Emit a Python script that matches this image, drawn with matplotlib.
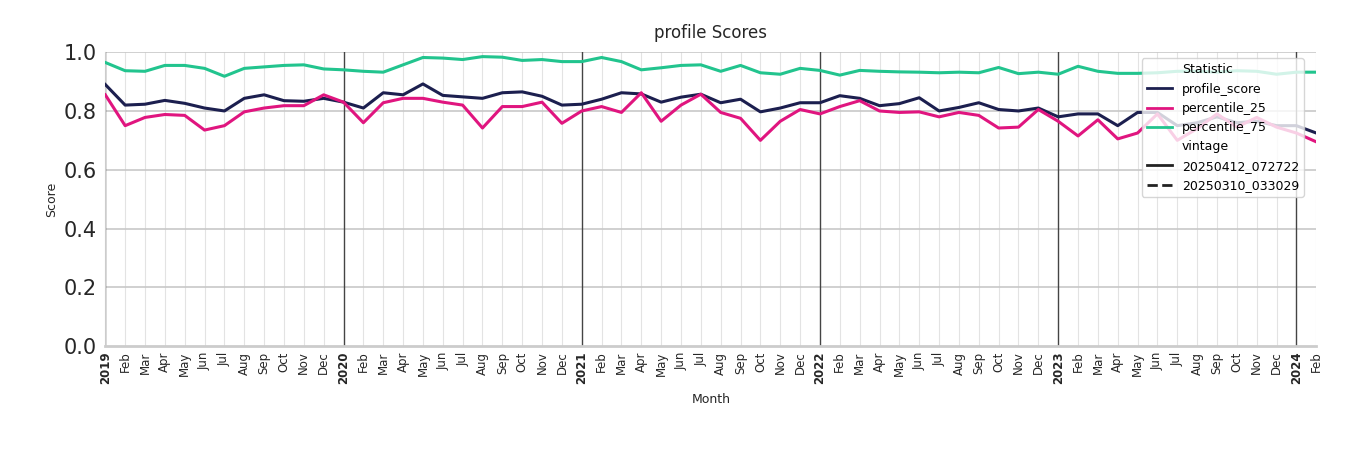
import numpy as np
import pandas as pd
import matplotlib
matplotlib.use("Agg")
import matplotlib.pyplot as plt
from matplotlib.lines import Line2D

months = pd.date_range("2019-01-01", "2024-02-01", freq="MS")

profile_score = [
    0.89, 0.82, 0.823, 0.836, 0.826, 0.81, 0.80, 0.843, 0.855, 0.835, 0.833, 0.843,
    0.83, 0.81, 0.862, 0.855, 0.892, 0.853, 0.848, 0.843, 0.862, 0.865, 0.85, 0.82,
    0.823, 0.84, 0.862, 0.858, 0.83, 0.847, 0.857, 0.828, 0.84, 0.797, 0.81, 0.828,
    0.828, 0.852, 0.843, 0.818, 0.825, 0.845, 0.80, 0.812, 0.828, 0.805, 0.80, 0.81,
    0.78, 0.79, 0.79, 0.75, 0.795, 0.795, 0.75, 0.76, 0.78, 0.76, 0.765, 0.75,
    0.75, 0.725,
]
percentile_25 = [
    0.855, 0.75, 0.778, 0.788, 0.785, 0.735, 0.75, 0.797, 0.81, 0.818, 0.818, 0.855,
    0.83, 0.76, 0.828, 0.843, 0.843, 0.83, 0.82, 0.742, 0.815, 0.815, 0.83, 0.758,
    0.80, 0.815, 0.795, 0.862, 0.765, 0.82, 0.857, 0.795, 0.775, 0.70, 0.765, 0.805,
    0.79, 0.815, 0.835, 0.80, 0.795, 0.797, 0.78, 0.795, 0.785, 0.742, 0.745, 0.805,
    0.765, 0.715, 0.77, 0.705, 0.725, 0.79, 0.70, 0.74, 0.79, 0.745, 0.778, 0.745,
    0.725, 0.695,
]
percentile_75 = [
    0.965, 0.937, 0.935, 0.955, 0.955, 0.945, 0.918, 0.945, 0.95, 0.955, 0.957, 0.943,
    0.94, 0.935, 0.932, 0.957, 0.982, 0.98, 0.975, 0.985, 0.983, 0.972, 0.975, 0.968,
    0.968, 0.982, 0.968, 0.94, 0.947, 0.955, 0.957, 0.935, 0.955, 0.93, 0.925, 0.945,
    0.938, 0.922, 0.938, 0.935, 0.933, 0.932, 0.93, 0.932, 0.93, 0.948, 0.927, 0.932,
    0.925, 0.952, 0.935, 0.928, 0.928, 0.93, 0.935, 0.935, 0.932, 0.937, 0.935, 0.925,
    0.932, 0.932,
]

colors = {"profile_score": "#1c1f4f", "percentile_25": "#e0157f", "percentile_75": "#22c48e"}
series = {"profile_score": profile_score, "percentile_25": percentile_25,
          "percentile_75": percentile_75}
txt = "#262626"

fig = plt.figure(figsize=(13.5, 4.5), dpi=100)
ax = fig.add_axes([0.078, 0.231, 0.897, 0.653])

x = np.arange(len(months))
# month grid + year lines
for i, m in enumerate(months):
    if m.month == 1:
        ax.axvline(i, color="#444444", lw=1.0, zorder=1)
    else:
        ax.axvline(i, color="#e3e3e3", lw=0.8, zorder=0)
for yv in [0.2, 0.4, 0.6, 0.8, 1.0]:
    ax.axhline(yv, color="#c8c8c8", lw=1.2, zorder=0)

for name, vals in series.items():
    ax.plot(x, vals, color=colors[name], lw=2.2, zorder=3)

ax.set_xlim(0, len(months) - 1)
ax.set_ylim(0, 1.0)
ax.set_yticks([0, 0.2, 0.4, 0.6, 0.8, 1.0])
ax.set_yticklabels(["0.0", "0.2", "0.4", "0.6", "0.8", "1.0"], fontsize=15, color=txt)
ax.tick_params(axis="y", length=0, pad=6)
ax.set_xticks(x)
labels = [str(m.year) if m.month == 1 else m.strftime("%b") for m in months]
ax.set_xticklabels(labels, rotation=90, fontsize=8.5, color=txt)
for lab, m in zip(ax.get_xticklabels(), months):
    if m.month == 1:
        lab.set_fontweight("bold")
ax.tick_params(axis="x", length=0, pad=4)
for s in ["top", "right"]:
    ax.spines[s].set_visible(False)
ax.spines["left"].set_color("#cccccc")
ax.spines["bottom"].set_color("#cccccc")
ax.spines["bottom"].set_linewidth(2)

ax.set_title("profile Scores", fontsize=12, pad=10, color=txt)
ax.set_xlabel("Month", fontsize=9, labelpad=6, color=txt)
ax.set_ylabel("Score", fontsize=9, color=txt)

blank = Line2D([], [], color="none")
handles = [blank,
           Line2D([], [], color=colors["profile_score"], lw=2),
           Line2D([], [], color=colors["percentile_25"], lw=2),
           Line2D([], [], color=colors["percentile_75"], lw=2),
           blank,
           Line2D([], [], color="#222222", lw=2),
           Line2D([], [], color="#222222", lw=2, ls="--")]
names = ["Statistic", "profile_score", "percentile_25", "percentile_75",
         "vintage", "20250412_072722", "20250310_033029"]
leg = ax.legend(handles, names, loc="upper right", bbox_to_anchor=(0.995, 1.0),
                fontsize=9, framealpha=0.8, handlelength=2)
leg.set_zorder(5)

fig.savefig("out.png", dpi=100)
